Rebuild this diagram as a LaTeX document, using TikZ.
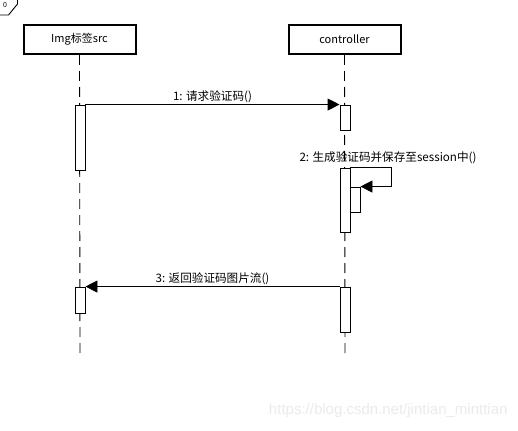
\documentclass[tikz,border=0pt]{standalone}
\usepackage{fontspec}
\setmainfont{Noto Sans CJK SC}
\newfontfamily\wmfont{Liberation Sans}
\usetikzlibrary{arrows.meta}
\begin{document}
\begin{tikzpicture}[x=1pt,y=-1pt,
  objbox/.style={draw,line width=2pt,minimum width=112pt,minimum height=29pt,inner sep=0pt,font=\fontsize{11}{12}\selectfont},
  lifeline/.style={line width=0.9pt,dash pattern=on 10pt off 6pt},
  act/.style={draw,fill=white,line width=0.9pt,minimum width=10pt,inner sep=0pt},
  msg/.style={line width=0.9pt,-{Triangle[length=12pt,width=12pt]}},
  lbl/.style={font=\fontsize{11.6}{13}\selectfont,inner sep=1pt}]
\useasboundingbox[fill=white] (0,0) rectangle (518,430);
\node[font=\fontsize{7}{8}\selectfont,inner sep=0pt] (tabtxt) at (5,5) {0};
\draw[line width=0.9pt] (17.5,0) -- (17.5,4) -- (8.5,15) -- (0,15);
% objects
\node[objbox] (src) at (79.5,39.5) {Img标签src};
\node[objbox] (ctrl) at (344.5,39.5) {controller};
\coordinate (srcend) at (80,356);
\coordinate (ctrlend) at (345,356);
\draw[lifeline] (src.south) -- (srcend);
\draw[lifeline] (ctrl.south) -- (ctrlend);
% activations
\node[act,minimum height=65pt] (a1) at (80,137.5) {};
\node[act,minimum height=25pt] (c1) at (345,117.5) {};
\node[act,minimum height=64pt] (c2) at (345,200) {};
\node[act,minimum height=25pt] (c3) at (355,199.5) {};
\node[act,minimum height=26pt] (a2) at (80,300) {};
\node[act,minimum height=45pt] (c4) at (345,309.5) {};
% messages
\draw[msg] (a1.north east) -- node[lbl,above] (m1) {1: 请求验证码()} (c1.north west);
\draw[msg] (c2.north east) -- ++(41,0) |- (c3.north east);
\node[lbl] (m2) at (388,158) {2: 生成验证码并保存至session中()};
\draw[msg] (c4.north west) -- node[lbl,above] (m3) {3: 返回验证码图片流()} (a2.north east);
% watermark
\node[font=\wmfont\fontsize{15}{17}\selectfont,text=black!8,anchor=east] (wm) at (511,411) {https://blog.csdn.net/jintian\_minttian};
\end{tikzpicture}
\end{document}
